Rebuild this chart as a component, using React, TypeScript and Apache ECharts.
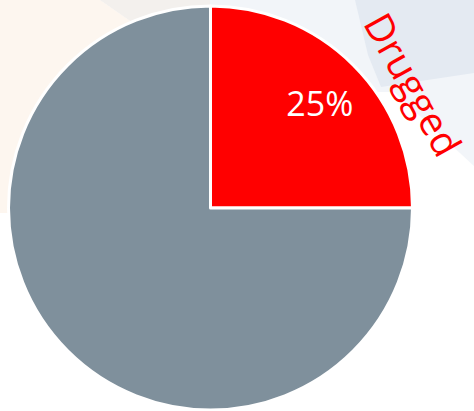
import React, { useEffect, useRef } from "react";
import * as echarts from "echarts";

const categories = ["Drugged", "Not drugged"];
const values = [25, 75];
const sliceColors = ["#ff0000", "#7f909c"];
const outerLabel = "Drugged";

export default function App() {
  const ref = useRef<HTMLDivElement>(null);
  useEffect(() => {
    if (!ref.current) return;
    const chart = echarts.init(ref.current, null, { renderer: "svg" });
    const data = categories.map((name, i) => ({
      name,
      value: values[i],
      itemStyle: { color: sliceColors[i] },
    }));
    chart.setOption({
      animation: false,
      backgroundColor: "#ffffff",
      graphic: [
        {
          type: "polygon",
          z: -10,
          silent: true,
          shape: { points: [[0, 0], [100, 0], [215, 80], [215, 213], [0, 213]] },
          style: { fill: "#fdf6ef" },
        },
        {
          type: "polygon",
          z: -10,
          silent: true,
          shape: { points: [[100, 0], [215, 0], [215, 80]] },
          style: { fill: "#f3f0ed" },
        },
        {
          type: "polygon",
          z: -10,
          silent: true,
          shape: { points: [[210, 0], [474, 0], [474, 166], [394, 92], [300, 92], [210, 92]] },
          style: { fill: "#f2f5f9" },
        },
        {
          type: "polygon",
          z: -9,
          silent: true,
          shape: { points: [[355, 0], [474, 0], [474, 73], [381, 87], [368, 55]] },
          style: { fill: "#e4eaf2" },
        },
        {
          type: "text",
          z: 50,
          silent: true,
          x: 414,
          y: 84,
          rotation: (-61 * Math.PI) / 180,
          style: {
            text: outerLabel,
            fill: "#ff0000",
            font: "39px 'Open Sans', sans-serif",
            align: "center",
            verticalAlign: "middle",
          },
        },
      ],
      series: [
        {
          type: "pie",
          center: [210.5, 208],
          radius: [0, 202],
          startAngle: 90,
          clockwise: true,
          silent: true,
          label: { show: false },
          labelLine: { show: false },
          itemStyle: { borderColor: "#ffffff", borderWidth: 3 },
          data,
        },
        {
          type: "pie",
          center: [210.5, 208],
          radius: [92, 200],
          startAngle: 90,
          clockwise: true,
          silent: true,
          z: 5,
          labelLine: { show: false },
          itemStyle: { color: "transparent", borderWidth: 0 },
          label: {
            show: true,
            position: "inside",
            formatter: "{d}%",
            color: "#ffffff",
            fontSize: 34,
            fontFamily: "'Open Sans', sans-serif",
            padding: [12, 0, 0, 8],
          },
          data: categories.map((name, i) => ({
            name,
            value: values[i],
            itemStyle: { color: "transparent" },
            label: { show: i === 0 },
          })),
        },
      ],
    });
    return () => chart.dispose();
  }, []);
  return (
    <div
      ref={ref}
      style={{ position: "fixed", left: 0, top: 0, width: 474, height: 411 }}
    />
  );
}
